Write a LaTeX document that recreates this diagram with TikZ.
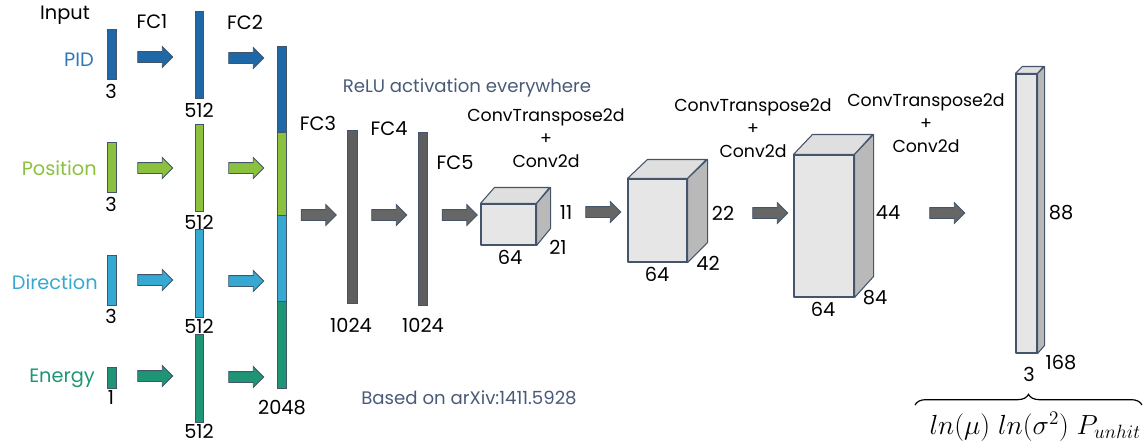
\documentclass[tikz,border=0pt]{standalone}
\usepackage{fontspec}
\setmainfont{Poppins}
\usetikzlibrary{shapes.arrows,decorations.pathreplacing,fit}
\definecolor{pidc}{HTML}{1F68A8}
\definecolor{posc}{HTML}{8CC140}
\definecolor{dirc}{HTML}{35A9D2}
\definecolor{enec}{HTML}{1E9676}
\definecolor{pidt}{HTML}{2E78BA}
\definecolor{edgec}{HTML}{44546A}
\definecolor{barg}{HTML}{5E5E5E}
\definecolor{arrg}{HTML}{666666}
\definecolor{notec}{HTML}{4A5B78}
\definecolor{cfront}{HTML}{E6E6E6}
\definecolor{ctop}{HTML}{DFDFDF}
\definecolor{cside}{HTML}{B9B9B9}
\begin{document}
\begin{tikzpicture}[x=0.75pt,y=-0.75pt,
  lbl/.style={inner sep=0pt, font=\fontsize{14.5}{17}\selectfont},
  note/.style={inner sep=0pt, text=notec, font=\fontsize{13.6}{16}\selectfont},
  conv/.style={inner sep=0pt, align=center, font=\fontsize{13}{17}\selectfont},
  barbox/.style={draw=edgec, line width=0.7pt, inner sep=0pt},
  blockarrow/.style={single arrow, draw=edgec, line width=0.6pt, inner xsep=0pt,
     inner ysep=3.75pt, single arrow head extend=3.75pt, minimum height=26.25pt,
     single arrow tip angle=90},
  face/.style={draw=edgec, line width=0.8pt, line join=round}
]
\useasboundingbox (0,0) rectangle (1143,446);

% ---- input column
\node[lbl] (tin) at (65,15) {Input};
\node[lbl] (tfc1) at (152,22) {FC1};
\node[lbl] (tfc2) at (245,22) {FC2};
\node[lbl, anchor=east, text=pidt] (tpid) at (94,60) {PID};
\node[lbl, anchor=east, text=posc] (tpos) at (97,168) {Position};
\node[lbl, anchor=east, text=dirc] (tdir) at (98,282) {Direction};
\node[lbl, anchor=east, text=enec] (tene) at (95,378) {Energy};

\node[barbox, fill=pidc, fit={(107,29)(116,79)}] (in1) {};
\node[barbox, fill=posc, fit={(107,142)(116,192)}] (in2) {};
\node[barbox, fill=dirc, fit={(107,255)(116,305)}] (in3) {};
\node[barbox, fill=enec, fit={(107,367)(116,388)}] (in4) {};
\node[lbl] (n1) at (111,91) {3};
\node[lbl] (n2) at (111,204) {3};
\node[lbl] (n3) at (111,316) {3};
\node[lbl] (n4) at (111,398) {1};

% ---- FC1 column
\node[barbox, fill=pidc, fit={(195,11)(203,98)}] (f1) {};
\node[barbox, fill=posc, fit={(195,124)(203,211)}] (f2) {};
\node[barbox, fill=dirc, fit={(195,229)(203,317)}] (f3) {};
\node[barbox, fill=enec, fit={(195,334)(203,422)}] (f4) {};
\node[lbl] (m1) at (199,110) {512};
\node[lbl] (m2) at (199,222) {512};
\node[lbl] (m3) at (199,326) {512};
\node[lbl] (m4) at (199,431) {512};

\node[blockarrow, fill=pidc] (a1) at (152.5,57) {};
\node[blockarrow, fill=posc] (a2) at (152.5,168) {};
\node[blockarrow, fill=dirc] (a3) at (152.5,280) {};
\node[blockarrow, fill=enec] (a4) at (152.5,376) {};
\node[blockarrow, fill=pidc] (b1) at (243.5,58) {};
\node[blockarrow, fill=posc] (b2) at (243.5,168) {};
\node[blockarrow, fill=dirc] (b3) at (243.5,281) {};
\node[blockarrow, fill=enec] (b4) at (243.5,377) {};

% ---- FC2 concatenated bar
\node[barbox, fill=pidc, fit={(277,46)(286,132)}] (c1) {};
\node[barbox, fill=posc, fit={(277,132)(286,215)}] (c2) {};
\node[barbox, fill=dirc, fit={(277,215)(286,301)}] (c3) {};
\node[barbox, fill=enec, fit={(277,301)(286,388)}] (c4) {};
\node[lbl] (m5) at (282,408) {2048};

% ---- FC3..FC5
\node[blockarrow, fill=arrg] (g1) at (316,215) {};
\node[lbl] (tfc3) at (318,123) {FC3};
\node[barbox, fill=barg, fit={(347,130)(357,303)}] (fc3) {};
\node[lbl] (k1) at (351,325) {1024};
\node[blockarrow, fill=arrg] (g2) at (386.5,215) {};
\node[lbl] (tfc4) at (389,129) {FC4};
\node[barbox, fill=barg, fit={(418,132)(427,305)}] (fc4) {};
\node[lbl] (k2) at (423,325) {1024};
\node[lbl] (tfc5) at (455,163) {FC5};
\node[blockarrow, fill=arrg] (g3) at (457,215) {};

\node[note] (relu) at (467,88) {ReLU activation everywhere};
\node[note] (based) at (469,398) {Based on arXiv:1411.5928};

% ---- cube 1
\node[face, fill=cfront, inner sep=0pt, fit={(481,204)(536,245)}] (q1) {};
\draw[face, fill=ctop] (q1.north west) -- ++(14,-16) -- ++(55,0) -- (q1.north east) -- cycle;
\draw[face, fill=cside] (q1.north east) -- ++(14,-16) -- ++(0,41) -- (q1.south east) -- cycle;
\node[lbl] (d11) at (566,213) {11};
\node[lbl] (d12) at (558,247) {21};
\node[lbl] (d13) at (510,257) {64};
\node[conv] (cv1) at (546,138) {ConvTranspose2d\\+\\Conv2d};

\node[blockarrow, fill=arrg] (g4) at (600.5,212) {};

% ---- cube 2
\node[face, fill=cfront, inner sep=0pt, fit={(628,179)(687,262)}] (q2) {};
\draw[face, fill=ctop] (q2.north west) -- ++(20,-19) -- ++(59,0) -- (q2.north east) -- cycle;
\draw[face, fill=cside] (q2.north east) -- ++(20,-19) -- ++(0,83) -- (q2.south east) -- cycle;
\node[lbl] (d21) at (723,213) {22};
\node[lbl] (d22) at (708,263) {42};
\node[lbl] (d23) at (657,274) {64};
\node[conv] (cv2) at (753,128) {ConvTranspose2d\\+\\Conv2d};

\node[blockarrow, fill=arrg] (g5) at (767.5,213) {};

% ---- cube 3
\node[face, fill=cfront, inner sep=0pt, fit={(794,155)(854,297)}] (q3) {};
\draw[face, fill=ctop] (q3.north west) -- ++(19,-20) -- ++(60,0) -- (q3.north east) -- cycle;
\draw[face, fill=cside] (q3.north east) -- ++(19,-20) -- ++(0,142) -- (q3.south east) -- cycle;
\node[lbl] (d31) at (888,213) {44};
\node[lbl] (d32) at (875,298) {84};
\node[lbl] (d33) at (823,309) {64};
\node[conv] (cv3) at (926,123) {ConvTranspose2d\\+\\Conv2d};

\node[blockarrow, fill=arrg] (g6) at (944.5,213) {};

% ---- output slab
\node[face, fill=cfront, inner sep=0pt, fit={(1016,74)(1037,353)}] (q4) {};
\draw[face, fill=ctop] (q4.north west) -- ++(7,-7) -- ++(21,0) -- (q4.north east) -- cycle;
\draw[face, fill=cside] (q4.north east) -- ++(7,-7) -- ++(0,279) -- (q4.south east) -- cycle;
\node[lbl] (d41) at (1061,213) {88};
\node[lbl] (d42) at (1061,363) {168};
\node[lbl] (d43) at (1029,374) {3};

\coordinate (brl) at (915,405);
\coordinate (brr) at (1142,405);
\draw[line width=0.9pt, decorate, decoration={brace, amplitude=8pt}] (brl) -- (brr);
\node[inner sep=0pt, anchor=east, font=\fontsize{21.8}{26}\selectfont] (out) at (1141,427) {$ln(\mu)\ ln(\sigma^2)\ P_{unhit}$};
\end{tikzpicture}
\end{document}
